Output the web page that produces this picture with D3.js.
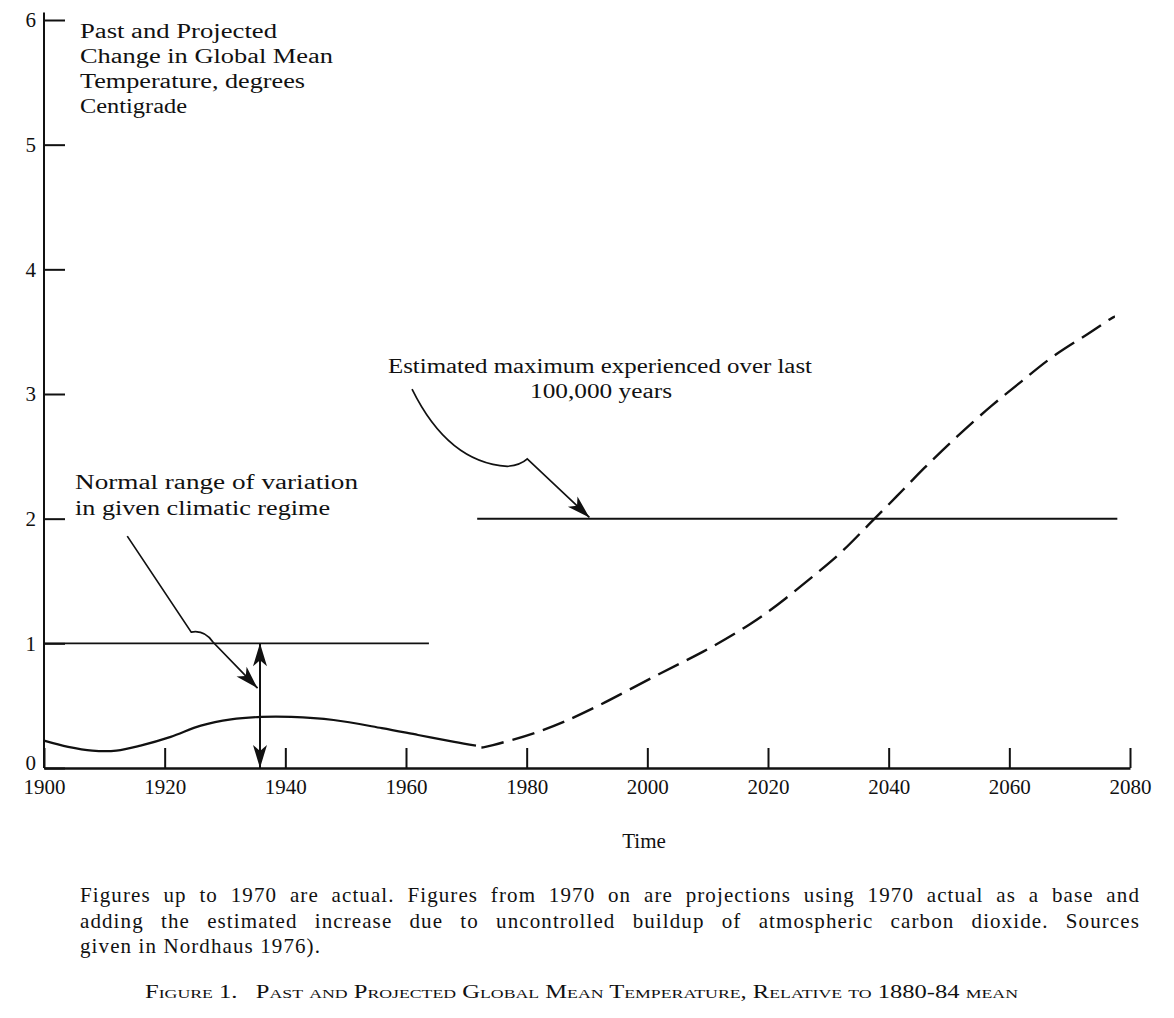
<!DOCTYPE html>
<meta charset="utf-8">
<head>
<style>
  body { margin: 0; background: #fff; }
  svg text { font-family: "Liberation Serif", "DejaVu Serif", serif; fill: #111; }
  .axis path, .axis line { stroke: #111; }
  .axis text { font-family: "Liberation Serif", serif; font-size: 21px; fill: #111; }
</style>
</head>
<body>
<div id="chart"></div>
<script src="https://d3js.org/d3.v7.min.js"></script>
<script>
// values
var actualYears = [1900, 1904, 1908, 1912, 1916, 1921, 1926, 1931, 1936, 1941, 1948, 1956, 1962, 1968, 1971.6];
var actualTemps = [0.22, 0.17, 0.14, 0.14, 0.18, 0.25, 0.34, 0.39, 0.41, 0.41, 0.385, 0.32, 0.265, 0.21, 0.18];

var projYears = [1972.5, 1973, 1982, 1991, 2002, 2009, 2017.5, 2023, 2028, 2032.3, 2036.6, 2041.4, 2045.7, 2051.3, 2057.3, 2062.3, 2067.2, 2073.4, 2077.2, 2077.5];
var projTemps = [0.165, 0.165, 0.28, 0.47, 0.76, 0.92, 1.16, 1.36, 1.56, 1.73, 1.95, 2.18, 2.40, 2.66, 2.92, 3.11, 3.31, 3.49, 3.62, 3.62];

var normalRange = [1900, 1963.8];   // years spanned by the line at 1 degree
var maxLine = [1971.8, 2077.9];     // years spanned by the line at 2 degrees
var spanYear = 1935.8;              // double arrow 0..1

var xTicks = [1900, 1920, 1940, 1960, 1980, 2000, 2020, 2040, 2060, 2080];
var yTicks = [0, 1, 2, 3, 4, 5, 6];

var captionLines = [
  "Figures up to 1970 are actual. Figures from 1970 on are projections using 1970 actual as a base and",
  "adding the estimated increase due to uncontrolled buildup of atmospheric carbon dioxide. Sources",
  "given in Nordhaus 1976)."
];

var W = 1174, H = 1018;
var svg = d3.select("#chart").append("svg")
  .attr("width", W).attr("height", H);

var x = d3.scaleLinear().domain([1900, 2080]).range([44, 1130]);
var y = d3.scaleLinear().domain([0, 6]).range([768, 20]);

// arrowhead
var defs = svg.append("defs");
defs.append("marker")
  .attr("id", "head")
  .attr("viewBox", "-24 -8 26 16")
  .attr("refX", 0).attr("refY", 0)
  .attr("markerWidth", 26).attr("markerHeight", 16)
  .attr("markerUnits", "userSpaceOnUse")
  .attr("orient", "auto-start-reverse")
  .append("path")
    .attr("d", "M0,0 L-23,-7 L-17,0 L-23,7 Z")
    .attr("fill", "#111");

// axes
var yAxis = svg.append("g").attr("class", "axis")
  .attr("transform", "translate(" + x(1900) + ",0)")
  .call(d3.axisLeft(y).tickValues(yTicks).tickFormat(d3.format("d"))
        .tickSizeInner(-21).tickSizeOuter(0).tickPadding(8));
yAxis.select(".domain").remove();
yAxis.selectAll("line").attr("stroke-width", 2);
yAxis.selectAll("text").attr("font-size", 20)
  .attr("dy", function(d) { return d === 0 ? "0.06em" : "0.32em"; });

svg.append("line")
  .attr("x1", x(1900)).attr("x2", x(1900))
  .attr("y1", y(0)).attr("y2", y(6.06))
  .attr("stroke", "#111").attr("stroke-width", 2);

var xAxis = svg.append("g").attr("class", "axis")
  .attr("transform", "translate(0," + y(0) + ")")
  .call(d3.axisBottom(x).tickValues(xTicks).tickFormat(d3.format("d"))
        .tickSizeInner(-20).tickSizeOuter(0).tickPadding(11));
xAxis.select(".domain").attr("stroke-width", 2.4);
xAxis.selectAll("line").attr("stroke-width", 2);
xAxis.selectAll("text").attr("font-size", 21);

// reference levels
svg.append("line")
  .attr("x1", x(normalRange[0])).attr("x2", x(normalRange[1]))
  .attr("y1", y(1)).attr("y2", y(1))
  .attr("stroke", "#111").attr("stroke-width", 1.8);
svg.append("line")
  .attr("x1", x(maxLine[0])).attr("x2", x(maxLine[1]))
  .attr("y1", y(2)).attr("y2", y(2))
  .attr("stroke", "#111").attr("stroke-width", 2);

// curves
var line = d3.line()
  .x(function(d) { return x(d[0]); })
  .y(function(d) { return y(d[1]); });

svg.append("path")
  .datum(d3.zip(actualYears, actualTemps))
  .attr("d", line.curve(d3.curveCatmullRom.alpha(0.5)))
  .attr("fill", "none").attr("stroke", "#111").attr("stroke-width", 2.2);

svg.append("path")
  .datum(d3.zip(projYears, projTemps))
  .attr("d", line.curve(d3.curveBasis))
  .attr("fill", "none").attr("stroke", "#111").attr("stroke-width", 2.4)
  .attr("stroke-dasharray", "23,9");

// double arrow: normal range of variation
svg.append("line")
  .attr("x1", x(spanYear)).attr("x2", x(spanYear))
  .attr("y1", y(0)).attr("y2", y(1))
  .attr("stroke", "#111").attr("stroke-width", 2)
  .attr("marker-start", "url(#head)")
  .attr("marker-end", "url(#head)");

// leader lines (drawn in data space)
var p = d3.path();
p.moveTo(x(1913.8), y(1.86));
p.lineTo(x(1924.4), y(1.09));
p.quadraticCurveTo(x(1926.6), y(1.11), x(1928.0), y(1.01));
p.lineTo(x(1935.4), y(0.64));
svg.append("path").attr("d", p.toString())
  .attr("fill", "none").attr("stroke", "#111").attr("stroke-width", 1.7)
  .attr("marker-end", "url(#head)");

var q = d3.path();
q.moveTo(x(1961.0), y(3.04));
q.quadraticCurveTo(x(1967.0), y(2.45), x(1976.8), y(2.42));
q.quadraticCurveTo(x(1979.0), y(2.43), x(1980.1), y(2.48));
q.lineTo(x(1990.4), y(2.01));
svg.append("path").attr("d", q.toString())
  .attr("fill", "none").attr("stroke", "#111").attr("stroke-width", 1.7)
  .attr("marker-end", "url(#head)");

// text helper: stretch glyphs a bit, like the wide old typeface
function label(txt, tx, ty, size, len, anchor) {
  var t = svg.append("text")
    .attr("x", tx).attr("y", ty)
    .attr("font-size", size)
    .attr("text-anchor", anchor || "start")
    .text(txt);
  if (len) t.attr("textLength", len).attr("lengthAdjust", "spacingAndGlyphs");
  return t;
}

// justify a line: a little letter spacing, the rest between words
var capLetter = 1.1;
function justified(txt, tx, ty, size, len) {
  var t = svg.append("text")
    .attr("x", tx).attr("y", ty)
    .attr("font-size", size)
    .style("letter-spacing", capLetter + "px")
    .text(txt);
  if (!len) return t;
  var gaps = txt.split(" ").length - 1;
  var extra = len - t.node().getComputedTextLength();
  if (gaps > 0 && extra > 0) t.style("word-spacing", (extra / gaps) + "px");
  return t;
}

// y axis title
label("Past and Projected", 80, 38, 20, 197);
label("Change in Global Mean", 80, 63, 20, 253);
label("Temperature, degrees", 80, 88, 20, 225);
label("Centigrade", 80, 113, 20, 107);

// annotations
label("Normal range of variation", 75, 489, 20, 283);
label("in given climatic regime", 75, 515, 20, 255);
label("Estimated maximum experienced over last", 388, 373, 20, 424);
label("100,000 years", 530, 398, 20, 142);

// x axis title
label("Time", 644, 848, 21, null, "middle");

// caption
justified(captionLines[0], 80, 902, 21, 1060);
justified(captionLines[1], 80, 928, 21, 1060);
justified(captionLines[2], 80, 953, 21, 0);

label("Figure 1.   Past and Projected Global Mean Temperature, Relative to 1880-84 mean", 145, 998, 18, 873)
  .style("font-variant", "small-caps")
  .attr("xml:space", "preserve");
</script>
</body>
